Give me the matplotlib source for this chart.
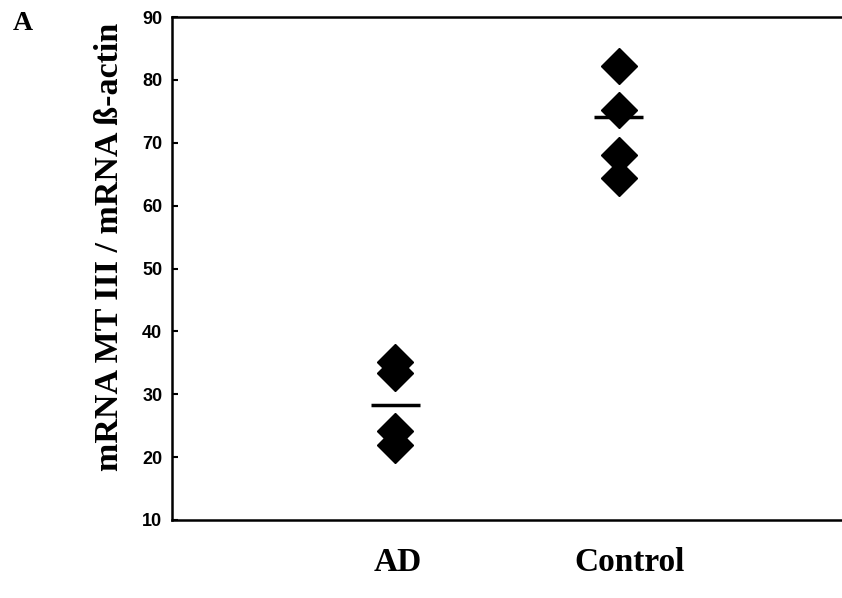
import matplotlib
matplotlib.use("Agg")
import matplotlib.pyplot as plt

categories = ["AD", "Control"]
ad_values = [35.1, 33.4, 24.2, 22.0]
control_values = [82.2, 75.2, 68.1, 64.4]
means = [28.3, 74.1]
yticks = [10, 20, 30, 40, 50, 60, 70, 80, 90]

fig = plt.figure(figsize=(8.42, 5.98), dpi=100)
ax = fig.add_axes([172/842, 1-520/598, 1-172/842, (520-17)/598])

xpos = [1, 2]
for x, vals in zip(xpos, [ad_values, control_values]):
    ax.plot([x]*len(vals), vals, linestyle="none", marker="D", markersize=18.5,
            color="black", markeredgecolor="black", markeredgewidth=1)
for x, m in zip(xpos, means):
    ax.hlines(m, x-0.11, x+0.11, color="black", linewidth=2.5)

ax.set_xlim(0, 3)
ax.set_ylim(10, 90)
ax.set_yticks(yticks)
ax.set_yticklabels([str(t) for t in yticks], fontfamily="Liberation Sans",
                   fontweight="bold", fontsize=13)
ax.tick_params(axis="y", direction="in", length=4, width=1.5, pad=7)
ax.set_xticks([])
for s in ["left", "bottom", "top"]:
    ax.spines[s].set_linewidth(1.8)
ax.spines["right"].set_visible(False)

for x, lab in zip([1.01, 2.05], categories):
    ax.text(x, -0.085, lab, transform=ax.get_xaxis_transform(), ha="center", va="center",
            fontfamily="Liberation Serif", fontweight="bold", fontsize=24)

fig.text(110/842, 1-247/598, "mRNA MT III / mRNA ß-actin", rotation=90,
         ha="center", va="center", fontfamily="Liberation Serif",
         fontweight="bold", fontsize=24.5)
fig.text(23/842, 1-24/598, "A", ha="center", va="center",
         fontfamily="Liberation Serif", fontweight="bold", fontsize=20)

fig.savefig("out.png", dpi=100)
